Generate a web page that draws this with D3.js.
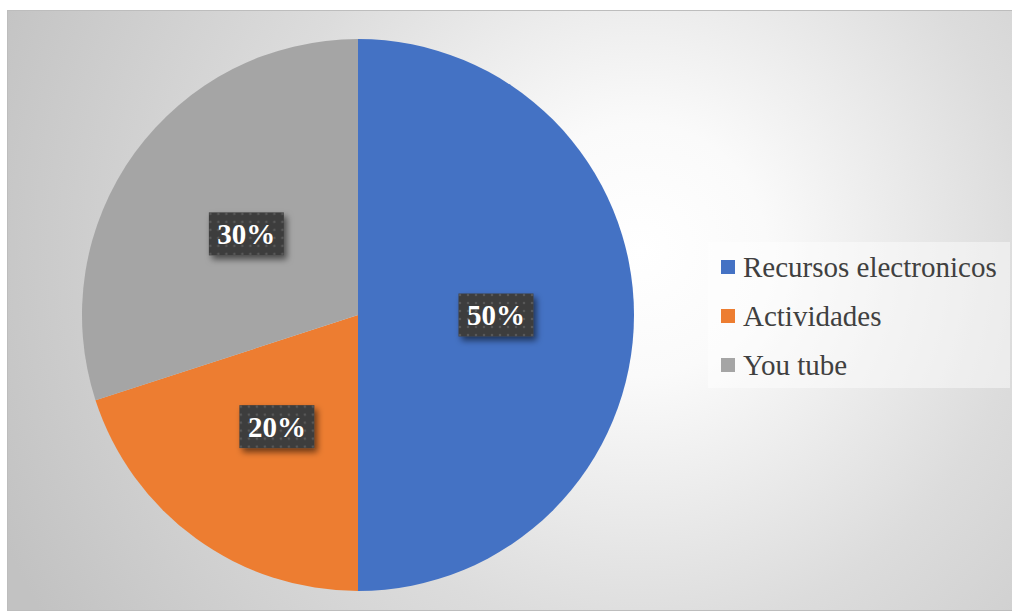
<!DOCTYPE html>
<html>
<head>
<meta charset="utf-8">
<script src="https://cdn.jsdelivr.net/npm/d3@7/dist/d3.min.js"></script>
<style>
  html, body { margin: 0; padding: 0; background: #ffffff; }
  svg { display: block; }
</style>
</head>
<body>
<svg id="chart" width="1012" height="614"></svg>
<script>
// Chart data
const categories = ["Recursos electronicos", "Actividades", "You tube"];
const values = [50, 20, 30];
const valueLabels = ["50%", "20%", "30%"];
const colors = ["#4472C4", "#ED7D31", "#A5A5A5"];

const FONT = '"Liberation Serif"';
const svg = d3.select("#chart");
const defs = svg.append("defs");

// Radial background of the chart area
const bg = defs.append("radialGradient")
  .attr("id", "bgGrad")
  .attr("gradientUnits", "userSpaceOnUse")
  .attr("cx", 640).attr("cy", 250).attr("r", 700);
bg.append("stop").attr("offset", 0).attr("stop-color", "#ffffff");
bg.append("stop").attr("offset", 0.18).attr("stop-color", "#fafafa");
bg.append("stop").attr("offset", 0.55).attr("stop-color", "#dcdcdc");
bg.append("stop").attr("offset", 1).attr("stop-color", "#c2c2c2");

// Dotted dark pattern for data labels
const pat = defs.append("pattern")
  .attr("id", "dots")
  .attr("patternUnits", "userSpaceOnUse")
  .attr("width", 8).attr("height", 8);
pat.append("rect").attr("width", 8).attr("height", 8).attr("fill", "#3d3d3d");
pat.append("circle").attr("cx", 4).attr("cy", 4).attr("r", 1.3).attr("fill", "#585858");

// Drop shadow for label boxes
const sh = defs.append("filter").attr("id", "shadow")
  .attr("x", "-20%").attr("y", "-20%").attr("width", "150%").attr("height", "160%");
sh.append("feDropShadow")
  .attr("dx", 3).attr("dy", 4).attr("stdDeviation", 3)
  .attr("flood-color", "#000").attr("flood-opacity", 0.55);

// Chart area
svg.append("rect")
  .attr("x", 7.5).attr("y", 10.5)
  .attr("width", 1010).attr("height", 600)
  .attr("fill", "url(#bgGrad)")
  .attr("stroke", "#bdbdbd").attr("stroke-width", 1);

// Pie
const cx = 358, cy = 315, R = 276;
const pie = d3.pie().sort(null).value(d => d);
const arcs = pie(values);
const arc = d3.arc().innerRadius(0).outerRadius(R);
const labelArc = d3.arc().innerRadius(R * 0.5).outerRadius(R * 0.5);

const g = svg.append("g").attr("transform", `translate(${cx},${cy})`);
g.selectAll("path.slice")
  .data(arcs)
  .join("path")
  .attr("class", "slice")
  .attr("d", arc)
  .attr("fill", (d, i) => colors[i]);

// Data labels
const lab = g.selectAll("g.lab")
  .data(arcs)
  .join("g")
  .attr("class", "lab")
  .attr("transform", d => {
    const [x, y] = labelArc.centroid(d);
    return `translate(${x},${y})`;
  });

lab.append("rect")
  .attr("x", -37.5).attr("y", -21.5)
  .attr("width", 75).attr("height", 43)
  .attr("fill", "url(#dots)")
  .attr("filter", "url(#shadow)");

lab.append("text")
  .style("font-family", FONT)
  .style("font-size", "29px")
  .style("font-weight", "bold")
  .attr("text-anchor", "middle")
  .attr("dy", "0.35em")
  .attr("fill", "#ffffff")
  .text((d, i) => valueLabels[i]);

// Legend
const legend = svg.append("g").attr("transform", "translate(708,242)");
legend.append("rect")
  .attr("width", 302).attr("height", 146)
  .attr("fill", "#ffffff").attr("fill-opacity", 0.45);

const items = legend.selectAll("g.item")
  .data(categories)
  .join("g")
  .attr("class", "item")
  .attr("transform", (d, i) => `translate(0,${25 + i * 49})`);

items.append("rect")
  .attr("x", 13).attr("y", -7)
  .attr("width", 14).attr("height", 14)
  .attr("fill", (d, i) => colors[i]);

items.append("text")
  .style("font-family", FONT)
  .style("font-size", "29px")
  .attr("x", 35)
  .attr("dy", "0.33em")
  .attr("fill", "#404040")
  .text(d => d);
</script>
</body>
</html>
